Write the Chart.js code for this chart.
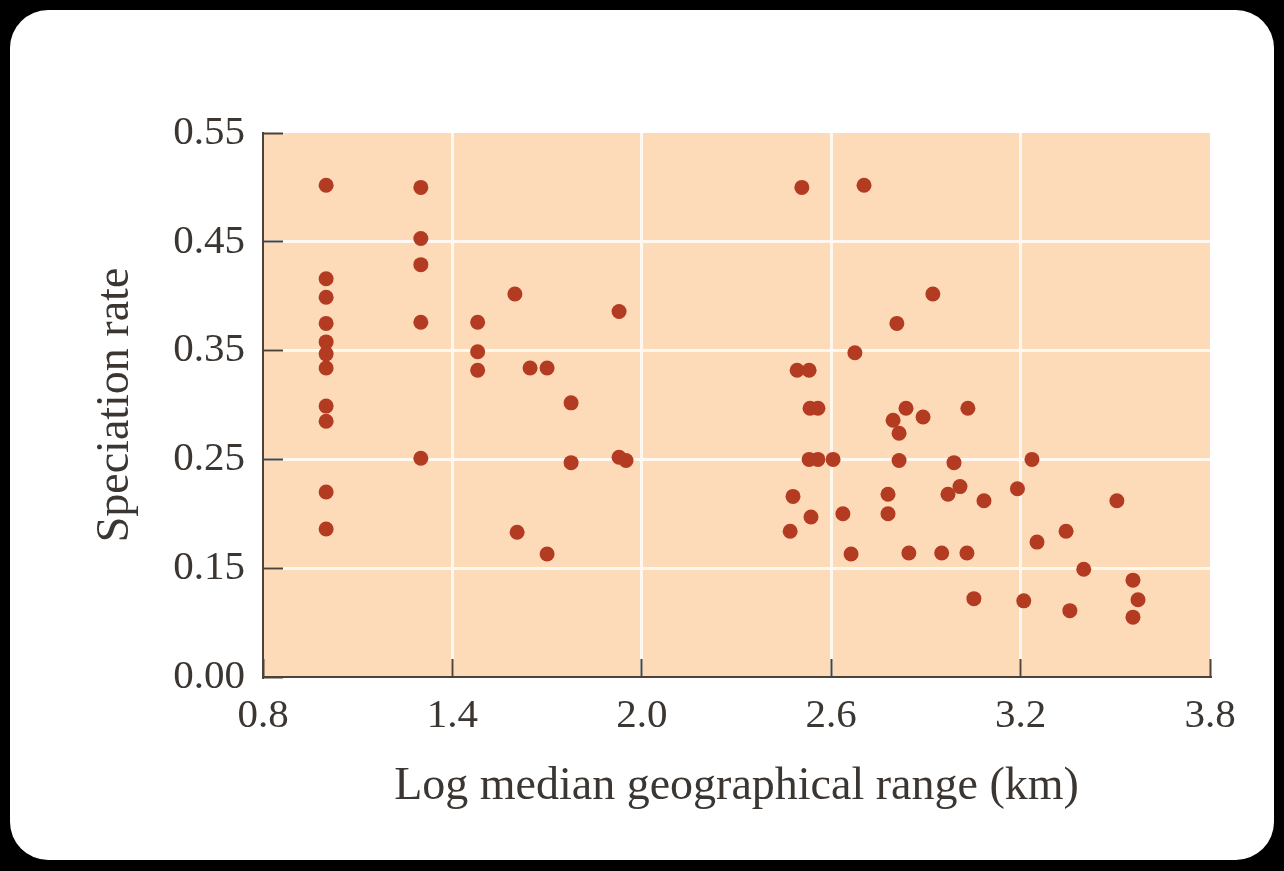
<!DOCTYPE html>
<html>
<head>
<meta charset="utf-8">
<script src="https://cdn.jsdelivr.net/npm/chart.js@4/dist/chart.umd.min.js"></script>
<style>
  html, body { margin: 0; padding: 0; background: #000; }
  body { width: 1284px; height: 871px; position: relative; overflow: hidden; }
  #card { position: absolute; left: 10px; top: 10px; width: 1264px; height: 850px; background: #fff; border-radius: 38px; }
  #wrap { position: absolute; left: 0; top: 0; width: 1284px; height: 871px; }
</style>
</head>
<body>
<div id="card"></div>
<div id="wrap"><canvas id="scatter"></canvas></div>
<script>
// log median geographical range (km)
const rangeLog = [
  1.0, 1.0, 1.0, 1.0, 1.0, 1.0, 1.0, 1.0, 1.0, 1.0, 1.0,
  1.3, 1.3, 1.3, 1.3, 1.3,
  1.48, 1.48, 1.48,
  1.598, 1.605, 1.646, 1.70, 1.70, 1.776, 1.776, 1.928, 1.928, 1.95,
  2.507, 2.704, 2.922, 2.808, 2.675, 2.492, 2.53, 2.533, 2.558, 2.837,
  2.891, 3.033, 2.796, 2.815, 2.53, 2.558, 2.606, 2.815, 2.989, 3.008,
  2.97, 3.084, 2.479, 2.536, 2.47, 2.637, 2.78, 2.78, 2.663, 2.846,
  2.95, 3.03, 3.052, 3.236, 3.19, 3.505, 3.344, 3.252, 3.40, 3.556,
  3.572, 3.556, 3.21, 3.356
]
// speciation rate (as placed on the broken axis, bottom tick = 0.00)
const speciationRate = [
  0.502, 0.416, 0.399, 0.375, 0.358, 0.347, 0.334, 0.299, 0.285, 0.220, 0.186,
  0.500, 0.453, 0.429, 0.376, 0.251,
  0.376, 0.349, 0.332,
  0.402, 0.183, 0.334, 0.334, 0.163, 0.302, 0.247, 0.386, 0.252, 0.249,
  0.500, 0.502, 0.402, 0.375, 0.348, 0.332, 0.332, 0.297, 0.297, 0.297,
  0.289, 0.297, 0.286, 0.274, 0.250, 0.250, 0.250, 0.249, 0.247, 0.225,
  0.218, 0.212, 0.216, 0.197, 0.184, 0.200, 0.218, 0.200, 0.163, 0.164,
  0.164, 0.164, 0.122, 0.250, 0.223, 0.212, 0.184, 0.174, 0.149, 0.139,
  0.121, 0.105, 0.120, 0.111
]

const xTickValues = [ 0.8, 1.4, 2.0, 2.6, 3.2, 3.8 ]
const xTickLabels = [ '0.8', '1.4', '2.0', '2.6', '3.2', '3.8' ]
const yTickValues = [ 0.05, 0.15, 0.25, 0.35, 0.45, 0.55 ]
const yTickLabels = [ '0.00', '0.15', '0.25', '0.35', '0.45', '0.55' ]

const serif = "'Liberation Serif', 'DejaVu Serif', serif"
const inkColor = '#3b3632'
const axisColor = '#4b423a'

const plotBackground = {
  id: 'plotBackground',
  beforeDraw ( chart ) {
    const { ctx, chartArea } = chart
    ctx.save()
    ctx.fillStyle = 'rgb(253, 218, 184)'
    ctx.fillRect( chartArea.left, chartArea.top, chartArea.right - chartArea.left, chartArea.bottom - chartArea.top )
    ctx.restore()
  }
}

const points = rangeLog.map( ( x, i ) => ( { x: x, y: speciationRate[ i ] } ) )

const config = {
  type: 'scatter',
  data: {
    datasets: [ {
      label: 'Speciation rate',
      data: points,
      backgroundColor: '#b33b22',
      borderWidth: 0,
      pointRadius: 7.5,
      pointHoverRadius: 7.5
    } ]
  },
  options: {
    responsive: true,
    maintainAspectRatio: false,
    animation: false,
    layout: { padding: { left: 0, top: 133, right: 74, bottom: 0 } },
    plugins: { legend: { display: false }, tooltip: { enabled: false } },
    scales: {
      x: {
        type: 'linear',
        min: 0.8,
        max: 3.8,
        afterBuildTicks: scale => { scale.ticks = xTickValues.map( v => ( { value: v } ) ) },
        afterFit: scale => { scale.height = 194 },
        ticks: {
          color: inkColor,
          font: { family: serif, size: 41 },
          padding: 33,
          maxRotation: 0,
          callback: ( value, index ) => xTickLabels[ index ]
        },
        grid: {
          color: ctx => ( ctx.index === 0 || ctx.index === xTickValues.length - 1 ) ? 'rgba(0,0,0,0)' : '#fff8f0',
          lineWidth: 3,
          tickLength: -18,
          tickColor: axisColor,
          tickWidth: 2
        },
        border: { color: axisColor, width: 2 },
        title: {
          display: true,
          text: 'Log median geographical range (km)',
          color: inkColor,
          font: { family: serif, size: 46 },
          padding: { top: 0, bottom: 56 }
        }
      },
      y: {
        type: 'linear',
        min: 0.05,
        max: 0.55,
        afterBuildTicks: scale => { scale.ticks = yTickValues.map( v => ( { value: v } ) ) },
        afterFit: scale => { scale.width = 263 },
        ticks: {
          color: inkColor,
          font: { family: serif, size: 41 },
          padding: 38,
          callback: ( value, index ) => yTickLabels[ index ]
        },
        grid: {
          color: ctx => ( ctx.index === 0 || ctx.index === yTickValues.length - 1 ) ? 'rgba(0,0,0,0)' : '#fff8f0',
          lineWidth: 3,
          tickLength: -20,
          tickColor: axisColor,
          tickWidth: 2
        },
        border: { color: axisColor, width: 2 },
        title: {
          display: true,
          text: 'Speciation rate',
          color: inkColor,
          font: { family: serif, size: 46 },
          padding: { top: 88, bottom: 0 }
        }
      }
    }
  },
  plugins: [ plotBackground ]
}

const graph = new Chart( document.getElementById( 'scatter' ), config )
</script>
</body>
</html>
